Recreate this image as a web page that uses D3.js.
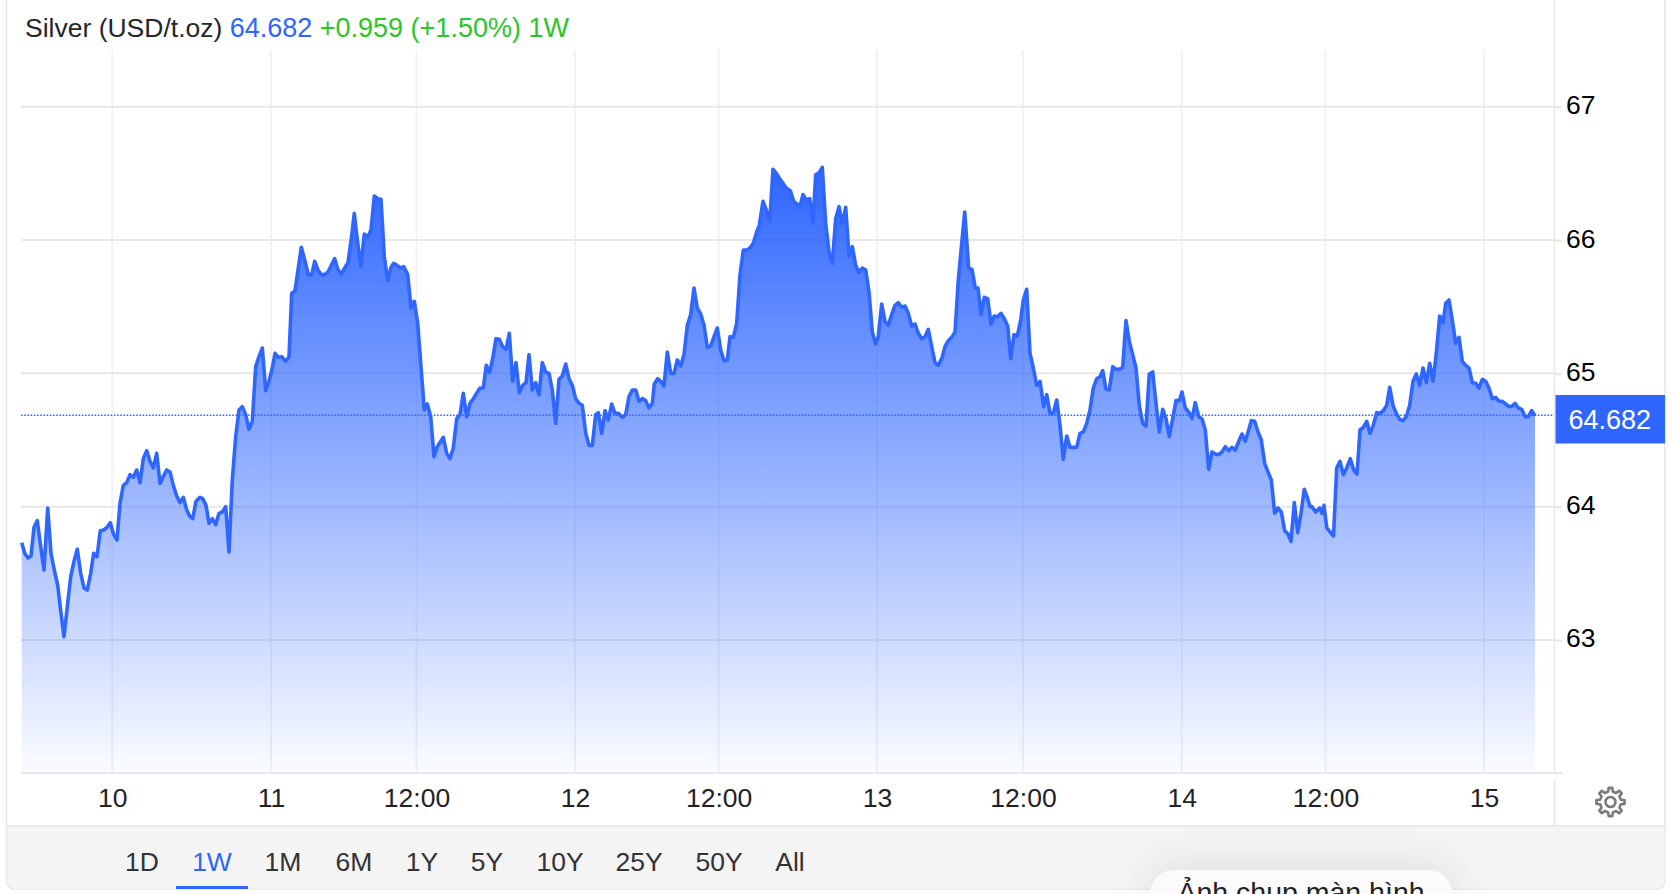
<!DOCTYPE html>
<html><head><meta charset="utf-8">
<script src="https://cdnjs.cloudflare.com/ajax/libs/d3/7.8.5/d3.min.js"></script>
<style>
html,body{margin:0;padding:0;background:#fff;overflow:hidden}
svg{display:block}
text{font-family:"Liberation Sans",Arial,sans-serif}
</style></head><body>
<svg id="c" width="1670" height="894"></svg>
<script>
// Position along the chart's session axis (market breaks removed), and silver price
const sessionTicks = [
0.7,3.7,7,10,13,16.3,19.7,23,26.7,30,33.3,36.7,40,43,46.3,49.7,53,56.3,59.7,63,
66.3,69.7,72.7,76,79.3,82.7,86,89.3,92.7,96,99,102.3,105.7,109,112.3,115.7,119,122.3,125.7,129,
132.3,135.7,139,142.3,145.7,149,152.3,155.7,159,162.3,165.7,169,171.7,175,179,181.7,185,188,191.3,194.7,
198,201.3,204.7,208,211.3,214.7,218,221.3,224.7,228,231.3,234.7,238,241.3,244.7,248,251.3,254,257.3,260.7,
264.7,268,270.7,274,277.3,280.3,283.7,287.3,290.7,293.7,297,300.3,303.7,307,310.3,313.7,317,320.3,323.7,327,
330.3,333.3,336.7,340,343.3,346.7,350,353.3,356.7,360,363.3,366.7,370,372.7,376,379.3,382.7,386.7,390,393.3,
396.7,400,403.3,406.3,409.7,413,416.3,422.3,425.7,429,432.3,435.7,439,442.3,445.7,449,452.3,455.7,459,462.3,
465.3,468.7,472,475,478.3,481.7,485,488.3,491.7,495,498.3,501.7,505,508,511.3,514.7,518,521.3,524.7,528,
531.3,534.7,538,541.3,544.7,548,551.3,554.7,558,561.3,564.7,568,571.3,574.7,577.3,580.7,584,587.3,590.7,594,
597.3,601.3,604.7,608,611.3,614.7,618,621.3,624.7,628,631.3,633.3,636.7,639.7,643,646.3,649.7,653,656.3,659.7,
663,666.3,669.7,673,676.3,679.7,683,686.3,689.7,693,696.3,699.7,703,706.3,709,712.3,715.7,719,722.3,725.7,
729,732.3,735.7,738.3,742,745.3,748.7,752,755.3,758.7,762,765.3,769.3,772.7,776,778.7,782,785.3,788.7,792,
794.7,798,801.3,804.7,808,811.3,814.7,818,821.3,824.7,828,831.3,834.7,838,841.3,844.7,848,851.3,854.7,857.3,
860.7,864,867.3,870.7,874,877.3,880.7,884,887.3,890.7,894,897.3,900.7,904,907.3,910.7,914,917.3,920.7,924,
927.3,930.7,934,937.3,940.7,943.7,947.7,951,954.3,957,960,963.3,966.7,970,973.3,976.7,980,983.3,986.7,989.7,
993,996.3,999.7,1002.3,1005.7,1009,1012.3,1015.7,1019,1022.7,1025.7,1029,1032.3,1035.7,1039,1042.3,1045.7,1049,1052.3,1055.7,
1059,1062.3,1065.7,1069,1072.3,1075.7,1079,1081.7,1085,1088.3,1091.7,1095,1098.3,1101.7,1105,1108.3,1111.7,1115,1118.3,1121.7,
1125,1128.3,1131.7,1135,1138.3,1141.7,1145,1148.3,1151.7,1155,1158.3,1161,1164.3,1167.7,1171,1174.3,1177.7,1181,1184.3,1187.7,
1191,1194.3,1197.7,1201,1204.3,1207.7,1211,1214.3,1217.7,1221,1224.3,1227.7,1230.3,1233.7,1237,1240.3,1243.7,1247,1250.3,1253.7,
1257,1260.3,1263.7,1267,1270,1273.3,1276.7,1280,1283.3,1286.7,1289,1290.8,1294.7,1298.7,1301,1303,1305.8,1309,1312.5,1315.7,
1319,1322.3,1325.7,1329.3,1332.7,1336,1339,1342.3,1345.7,1349,1352.3,1355.7,1359,1362.3,1365.7,1368.7,1372,1375.3,1378.7,1382,
1385.3,1388.7,1392,1395.3,1398.7,1402,1405.3,1408.7,1412,1415.3,1418.7,1422,1424.7,1428,1431.3,1434.7,1438,1441.3,1444.7,1448,
1451.3,1454.7,1458,1461.3,1464.7,1468,1471.3,1474.7,1478,1481.3,1484.7,1488,1491.3,1494,1497.3,1500.7,1504,1507.3,1510.7,1514];
const prices = [
63.73,63.65,63.615,63.63,63.845,63.895,63.7,63.525,63.99,63.65,63.525,63.41,63.2,63.025,63.25,63.475,63.59,63.68,63.5,63.39,
63.375,63.5,63.65,63.625,63.82,63.825,63.845,63.88,63.79,63.75,64.025,64.16,64.18,64.24,64.22,64.275,64.18,64.36,64.42,64.34,
64.29,64.4,64.175,64.225,64.275,64.26,64.16,64.08,64.03,64.07,63.975,63.925,63.91,64.04,64.07,64.06,64.01,63.875,63.91,63.865,
63.95,63.96,64,63.66,64.2,64.525,64.725,64.75,64.69,64.58,64.64,65.05,65.125,65.19,64.87,64.94,65.04,65.15,65.12,65.125,
65.09,65.125,65.6,65.62,65.79,65.945,65.85,65.74,65.74,65.84,65.775,65.74,65.74,65.76,65.81,65.86,65.775,65.745,65.79,65.83,
66.01,66.2,65.975,65.805,66.045,66.02,66.075,66.33,66.31,66.305,65.875,65.695,65.795,65.825,65.81,65.79,65.8,65.74,65.49,65.54,
65.375,65.05,64.725,64.77,64.675,64.375,64.45,64.52,64.4,64.36,64.44,64.66,64.69,64.85,64.675,64.775,64.81,64.85,64.89,64.89,
65.06,65.005,65.125,65.26,65.255,65.2,65.18,65.3,64.94,65.08,64.855,64.91,64.93,65.14,64.875,64.93,64.84,65.08,65.01,65,
64.875,64.625,64.955,64.98,65.07,64.96,64.91,64.81,64.775,64.76,64.55,64.46,64.46,64.69,64.705,64.55,64.72,64.65,64.77,64.7,
64.7,64.67,64.69,64.825,64.875,64.875,64.79,64.81,64.795,64.74,64.775,64.92,64.96,64.94,64.905,65.16,65,65,65.1,65.055,
65.14,65.36,65.44,65.64,65.49,65.445,65.36,65.195,65.205,65.275,65.34,65.175,65.095,65.1,65.275,65.27,65.375,65.74,65.925,65.925,
65.94,65.975,66.06,66.11,66.29,66.225,66.14,66.53,66.5,66.46,66.425,66.39,66.37,66.29,66.27,66.245,66.34,66.3,66.31,66.13,
66.49,66.505,66.545,66.125,65.91,65.825,66.16,66.25,66.12,66.245,65.88,65.95,65.81,65.755,65.79,65.775,65.61,65.31,65.22,65.275,
65.52,65.39,65.36,65.44,65.51,65.53,65.495,65.505,65.45,65.355,65.37,65.3,65.26,65.275,65.33,65.2,65.08,65.06,65.11,65.2,
65.245,65.27,65.31,65.7,65.975,66.21,65.79,65.78,65.64,65.64,65.44,65.57,65.56,65.37,65.43,65.425,65.45,65.41,65.355,65.11,
65.29,65.28,65.4,65.55,65.63,65.15,65.04,64.91,64.94,64.75,64.84,64.7,64.7,64.8,64.61,64.355,64.53,64.445,64.445,64.445,
64.55,64.56,64.625,64.725,64.89,64.96,64.975,65.02,64.88,64.875,65.05,65.03,65.03,65.045,65.395,65.24,65.14,65.04,64.76,64.625,
64.605,64.995,65.01,64.775,64.56,64.73,64.66,64.525,64.66,64.795,64.795,64.86,64.74,64.71,64.66,64.78,64.675,64.66,64.575,64.28,
64.41,64.395,64.39,64.41,64.45,64.42,64.445,64.425,64.49,64.545,64.49,64.575,64.645,64.64,64.56,64.5,64.325,64.26,64.2,63.95,
63.99,63.96,63.82,63.795,63.74,64.03,63.805,63.95,64.13,64.06,64,64,63.96,63.99,63.95,64.01,63.84,63.81,63.78,64.29,
64.34,64.24,64.29,64.36,64.275,64.245,64.575,64.595,64.64,64.55,64.61,64.705,64.7,64.72,64.76,64.895,64.76,64.7,64.655,64.645,
64.675,64.76,64.94,64.995,64.91,65.04,64.93,65.075,64.94,65.15,65.43,65.38,65.525,65.55,65.4,65.225,65.27,65.09,65.06,65.04,
64.93,64.925,64.89,64.955,64.94,64.89,64.81,64.82,64.79,64.79,64.77,64.75,64.755,64.775,64.74,64.73,64.675,64.675,64.72,64.682];
const yTicks = [63,64,65,66,67];
const xTickPositions = [91.3,250,395.5,554,697.6,856,1002,1160.7,1304.5,1463];
const xTickLabels = ["10","11","12:00","12","12:00","13","12:00","14","12:00","15"];
const rangeTabs = ["1D","1W","1M","6M","1Y","5Y","10Y","25Y","50Y","All"];
const lastPrice = 64.682;
const titleParts = [["Silver (USD/t.oz) ","#23262b",26.5],["64.682 ","#2e66ff",27],["+0.959 (+1.50%) 1W","#2ac52a",27]];

const BLUE="#2e66ff", GRID_H="#e8e8e8", GRID_V="#eff3f7", BORDER="#e6e6e6";
const svg=d3.select("#c");
const x=d3.scaleLinear().domain([0,1514]).range([21,1535]);
const y=d3.scaleLinear().domain([62,67]).range([773.33,106.67]);
const pts=sessionTicks.map((t,i)=>({t,v:prices[i]}));

const defs=svg.append("defs");
const g=defs.append("linearGradient").attr("id","fill").attr("gradientUnits","userSpaceOnUse")
  .attr("x1",0).attr("x2",0).attr("y1",y(d3.max(prices))).attr("y2",y(62));
g.append("stop").attr("offset",0).attr("stop-color",BLUE).attr("stop-opacity",1);
g.append("stop").attr("offset",1).attr("stop-color",BLUE).attr("stop-opacity",0.02);
defs.append("filter").attr("id","soft").attr("x","-30%").attr("y","-100%").attr("width","160%").attr("height","300%")
  .append("feGaussianBlur").attr("stdDeviation",22);

// card + bottom band
svg.append("rect").attr("x",6.5).attr("y",-10).attr("width",1658.5).attr("height",899).attr("rx",8)
  .attr("fill","#fff").attr("stroke",BORDER).attr("stroke-width",1.5);
svg.append("path").attr("d","M7,826H1664.5V881a7.5,7.5 0 0 1 -7.5,7.5H14.5a7.5,7.5 0 0 1 -7.5,-7.5Z").attr("fill","#f4f4f4");
svg.append("line").attr("x1",7).attr("x2",1665).attr("y1",826).attr("y2",826).attr("stroke",BORDER).attr("stroke-width",1.5);

// grid
svg.append("g").selectAll("line").data(xTickPositions).join("line")
  .attr("x1",d=>x(d)).attr("x2",d=>x(d)).attr("y1",50).attr("y2",773).attr("stroke",GRID_V).attr("stroke-width",2);
svg.append("g").selectAll("line").data(yTicks).join("line")
  .attr("x1",21).attr("x2",1554).attr("y1",d=>y(d)).attr("y2",d=>y(d)).attr("stroke",GRID_H).attr("stroke-width",2);

// area + line
svg.append("path").attr("d",d3.area().x(d=>x(d.t)).y0(y(62)).y1(d=>y(d.v))(pts)).attr("fill","url(#fill)");
svg.append("path").attr("d",d3.line().x(d=>x(d.t)).y(d=>y(d.v))(pts))
  .attr("fill","none").attr("stroke",BLUE).attr("stroke-width",3.6).attr("stroke-linejoin","round");

// last price
svg.append("line").attr("x1",21).attr("x2",1555).attr("y1",y(lastPrice)-0.5).attr("y2",y(lastPrice)-0.5)
  .attr("stroke",BLUE).attr("stroke-width",1.5).attr("stroke-dasharray","1.6 1.6");

// axis frame
svg.append("line").attr("x1",21).attr("x2",1562).attr("y1",773).attr("y2",773).attr("stroke",GRID_H).attr("stroke-width",2);
svg.append("line").attr("x1",1554.5).attr("x2",1554.5).attr("y1",0).attr("y2",773).attr("stroke",GRID_H).attr("stroke-width",1.5);
svg.append("line").attr("x1",1554.5).attr("x2",1554.5).attr("y1",780).attr("y2",826).attr("stroke",BORDER).attr("stroke-width",1.5);

// axes
const ay=svg.append("g").attr("transform","translate(1555,0)")
  .call(d3.axisRight(y).tickValues(yTicks).tickSize(7).tickPadding(4).tickFormat(d3.format("d")));
ay.select(".domain").remove();
ay.selectAll("line").attr("stroke",GRID_H).attr("stroke-width",2);
ay.selectAll("text").attr("font-size",26.5).attr("fill","#000").attr("dy","7px");
const ax=svg.append("g").attr("transform","translate(0,773)")
  .call(d3.axisBottom(x).tickValues(xTickPositions).tickSize(0).tickPadding(0).tickFormat((d,i)=>xTickLabels[i]));
ax.select(".domain").remove();
ax.selectAll("text").attr("font-size",26.5).attr("fill","#1f2328").attr("y",34).attr("dy",0);

// title
const tt=svg.append("text").attr("x",25).attr("y",37).attr("xml:space","preserve");
tt.selectAll("tspan").data(titleParts).join("tspan").attr("fill",d=>d[1]).attr("font-size",d=>d[2]).text(d=>d[0]);

// price tag
svg.append("rect").attr("x",1555.5).attr("y",395).attr("width",109.5).attr("height",48.5).attr("fill",BLUE);
svg.append("text").attr("x",1609.7).attr("y",429).attr("text-anchor","middle").attr("font-size",27).attr("fill","#fff").text(lastPrice);

// gear
const gearPts=[];
for(let i=0;i<8;i++){const a=i*Math.PI/4;
  [[-0.22,10.6],[-0.13,14.2],[0.13,14.2],[0.22,10.6]].forEach(([da,r])=>gearPts.push([a+da,r]));}
const gear=svg.append("g").attr("transform","translate(1610.5,802)").attr("fill","none").attr("stroke","#7a7a7a").attr("stroke-width",2.6);
gear.append("path").attr("d",d3.lineRadial().curve(d3.curveLinearClosed)(gearPts)).attr("stroke-linejoin","round");
gear.append("circle").attr("r",5);

// range tabs
const tabX=[142,212,283,354,422,487,560,639,719,790];
svg.append("g").selectAll("text").data(rangeTabs).join("text")
  .attr("x",(d,i)=>tabX[i]).attr("y",871).attr("text-anchor","middle").attr("font-size",26.5)
  .attr("fill",d=>d==="1W"?BLUE:"#333").text(d=>d);
svg.append("rect").attr("x",176).attr("y",886).attr("width",72).attr("height",3).attr("fill",BLUE);

// screenshot pill
svg.append("rect").attr("x",1150).attr("y",866).attr("width",302).attr("height",60).attr("rx",24)
  .attr("fill","#000").attr("opacity",0.09).attr("filter","url(#soft)");
svg.append("rect").attr("x",1150).attr("y",870).attr("width",302).attr("height",60).attr("rx",24).attr("fill","#fbfbfb");
svg.append("text").attr("x",1301).attr("y",902).attr("text-anchor","middle").attr("font-size",28.5).attr("fill","#222").text("Ảnh chụp màn hình");
</script>
</body></html>
